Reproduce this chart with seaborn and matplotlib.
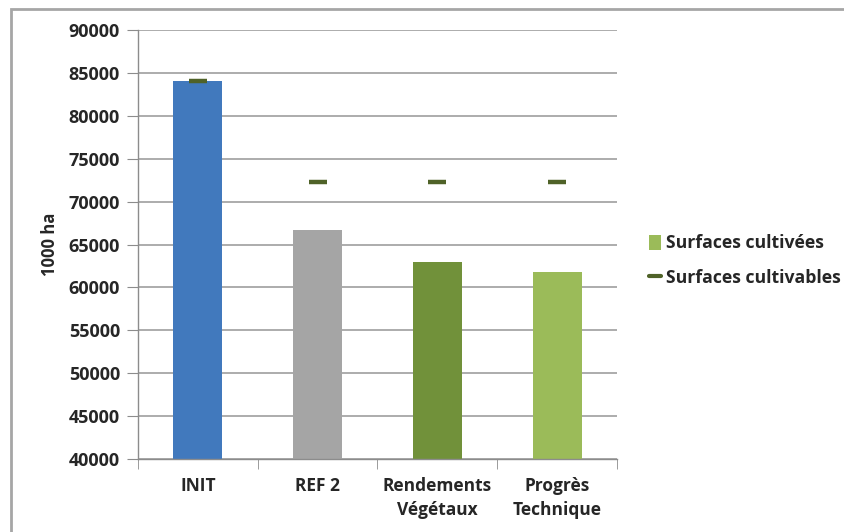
import pandas as pd
import seaborn as sns
import matplotlib.pyplot as plt
from matplotlib.patches import Patch, Rectangle
from matplotlib.lines import Line2D

# data
scenarios = ['INIT', 'REF 2', 'Rendements\nVégétaux', 'Progrès\nTechnique']
surfaces_cultivees = [84100, 66700, 63000, 61850]
surfaces_cultivables = [84000, 72250, 72250, 72250]
bar_colors = ['#4179BD', '#A5A5A5', '#71913A', '#9BBB59']

df = pd.DataFrame({'scenario': scenarios, 'cultivees': surfaces_cultivees,
                   'cultivables': surfaces_cultivables})

sns.set_style('white')
plt.rcParams['font.family'] = ['Open Sans', 'DejaVu Sans']
plt.rcParams['font.weight'] = 'bold'

fig = plt.figure(figsize=(8.44, 5.32), dpi=100)
ax = fig.add_axes([0.1635, 0.1372, 0.5675, 0.8064])

sns.barplot(data=df, x='scenario', y='cultivees', hue='scenario',
            palette=bar_colors, saturation=1, width=0.41, legend=False,
            ax=ax, edgecolor='none')
ax.plot(range(len(scenarios)), df['cultivables'], linestyle='',
        marker='_', markersize=12.5, markeredgewidth=3.2, color='#4F6228',
        zorder=5)

ax.set_ylim(40000, 90000)
ax.set_yticks(range(40000, 90001, 5000))
ax.set_xlim(-0.5, 3.5)
ax.yaxis.grid(True, color='#A6A6A6', linewidth=1.3)
ax.set_axisbelow(True)
for side in ['top', 'right']:
    ax.spines[side].set_visible(False)
for side in ['left', 'bottom']:
    ax.spines[side].set_color('#8C8C8C')
    ax.spines[side].set_linewidth(1.0)

ax.tick_params(axis='y', direction='out', length=8, color='#8C8C8C',
               left=True, labelsize=13, pad=5)
ax.set_xticks([0, 1, 2, 3])
ax.set_xticklabels(scenarios, fontsize=12.5, fontweight='bold', linespacing=1.45)
ax.tick_params(axis='x', length=0, pad=13)
# small tick marks between categories
ax.set_xticks([-0.5, 0.5, 1.5, 2.5, 3.5], minor=True)
ax.tick_params(axis='x', which='minor', direction='out', length=7,
               color='#8C8C8C', bottom=True)
for lbl in ax.get_yticklabels():
    lbl.set_fontweight('bold')
ax.set_xlabel('')
ax.set_ylabel('1000 ha', fontsize=12, fontweight='bold', labelpad=7)

handles = [Patch(facecolor='#9BBB59', edgecolor='none'),
           Line2D([], [], color='#4F6228', linewidth=3)]
fig.legend(handles, ['Surfaces cultivées', 'Surfaces cultivables'],
           loc='center left', bbox_to_anchor=(0.75, 0.51), frameon=False,
           prop={'size': 12.7, 'weight': 'bold'}, handlelength=0.7,
           handleheight=0.9, handletextpad=0.25, labelspacing=0.95)

# light frame around the chart area
fig.patches.append(Rectangle((11 / 844, -0.05), 1.1, 1 - 9 / 532 + 0.05,
                             transform=fig.transFigure, fill=False,
                             edgecolor='#A6A6A6', linewidth=2))

plt.savefig('out.png', dpi=100)
